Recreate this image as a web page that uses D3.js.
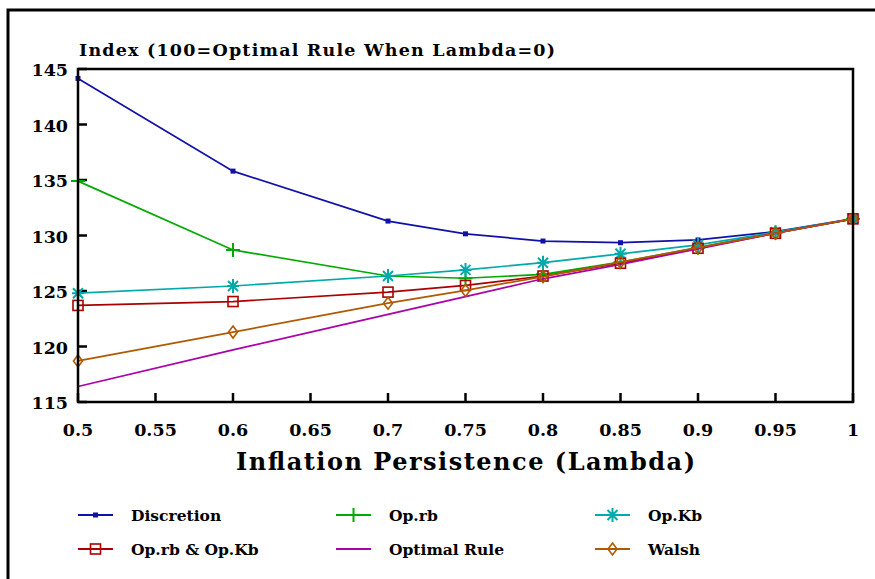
<!DOCTYPE html>
<html>
<head>
<meta charset="utf-8">
<script src="https://d3js.org/d3.v7.min.js"></script>
<style>
  body { margin: 0; background: #fff; }
  svg text { font-family: "DejaVu Serif", serif; font-weight: bold; fill: #000; }
</style>
</head>
<body>
<div id="chart"></div>
<script>
  // x values (inflation persistence)
  var lambdas = [0.5, 0.6, 0.7, 0.75, 0.8, 0.85, 0.9, 0.95, 1.0];

  var discretion = [144.15, 135.8, 131.3, 130.15, 129.5, 129.35, 129.6, 130.35, 131.5];
  var opRb = [134.9, 128.7, 126.35, 126.15, 126.5, 127.6, 128.9, 130.25, 131.5];
  var opKb = [124.8, 125.45, 126.35, 126.9, 127.55, 128.35, 129.15, 130.3, 131.5];
  var opRbKb = [123.7, 124.05, 124.9, 125.5, 126.35, 127.5, 128.85, 130.2, 131.5];
  var optimalRule = [116.4, 119.7, 122.9, 124.5, 126.1, 127.4, 128.8, 130.2, 131.5];
  var walsh = [118.7, 121.3, 123.9, 125.05, 126.3, 127.6, 128.9, 130.2, 131.5];

  var seriesNames = ["Discretion", "Op.rb", "Op.Kb", "Op.rb & Op.Kb", "Optimal Rule", "Walsh"];
  var seriesValues = [discretion, opRb, opKb, opRbKb, optimalRule, walsh];
  var seriesColors = ["#1010aa", "#00aa00", "#00aaaa", "#aa0000", "#aa00aa", "#b05a00"];
  var seriesMarkers = ["dot", "plus", "star", "square", "none", "diamond"];

  var xTicks = [0.5, 0.55, 0.6, 0.65, 0.7, 0.75, 0.8, 0.85, 0.9, 0.95, 1];
  var xTickLabels = ["0.5", "0.55", "0.6", "0.65", "0.7", "0.75", "0.8", "0.85", "0.9", "0.95", "1"];
  var yTicks = [115, 120, 125, 130, 135, 140, 145];

  var W = 875, H = 579,
    margin = {top: 69, left: 78, right: 22, bottom: 177};

  var svg = d3.select("#chart").append("svg").attr("width", W).attr("height", H);

  // outer frame (runs off the page on the right and bottom)
  svg.append("rect")
    .attr("x", 8).attr("y", 10).attr("width", W + 20).attr("height", H + 20)
    .attr("fill", "none").attr("stroke", "#000").attr("stroke-width", 3);

  var x = d3.scaleLinear().domain([0.5, 1]).range([margin.left, W - margin.right]),
    y = d3.scaleLinear().domain([115, 145]).range([H - margin.bottom, margin.top]);

  // inside ticks
  var tickG = svg.append("g").attr("stroke", "#000").attr("stroke-width", 2.5);
  tickG.selectAll(".xt").data(xTicks).enter().append("line")
    .attr("x1", function (d) { return x(d); }).attr("x2", function (d) { return x(d); })
    .attr("y1", y(115)).attr("y2", y(115) - 9);
  tickG.selectAll(".yt").data(yTicks).enter().append("line")
    .attr("x1", x(0.5)).attr("x2", x(0.5) + 9)
    .attr("y1", function (d) { return y(d); }).attr("y2", function (d) { return y(d); });

  // tick labels
  svg.selectAll(".xl").data(xTicks).enter().append("text")
    .attr("x", function (d) { return x(d); }).attr("y", y(115) + 34)
    .attr("text-anchor", "middle").attr("font-size", 17.5)
    .text(function (d, i) { return xTickLabels[i]; });
  svg.selectAll(".yl").data(yTicks).enter().append("text")
    .attr("x", x(0.5) - 10).attr("y", function (d) { return y(d) + 7; })
    .attr("text-anchor", "end").attr("font-size", 17.5)
    .text(function (d) { return d; });

  // titles
  svg.append("text").attr("x", 79).attr("y", 56).attr("font-size", 17.5)
    .attr("textLength", 476).attr("lengthAdjust", "spacing")
    .text("Index (100=Optimal Rule When Lambda=0)");
  svg.append("text").attr("x", 236).attr("y", 470).attr("font-size", 24)
    .attr("textLength", 459).attr("lengthAdjust", "spacing")
    .text("Inflation Persistence (Lambda)");

  function drawMarker(g, type, color) {
    if (type == "dot") {
      g.append("rect").attr("x", -2.5).attr("y", -2.5).attr("width", 5).attr("height", 5).attr("fill", color);
    } else if (type == "plus") {
      g.append("path").attr("d", "M-7,0H7M0,-7V7").attr("stroke", color).attr("stroke-width", 2).attr("fill", "none");
    } else if (type == "star") {
      g.append("path").attr("d", "M-6,0H6M0,-7V7M-5,-5L5,5M-5,5L5,-5").attr("stroke", color).attr("stroke-width", 2).attr("fill", "none");
    } else if (type == "square") {
      g.append("rect").attr("x", -5).attr("y", -5).attr("width", 10).attr("height", 10)
        .attr("fill", "none").attr("stroke", color).attr("stroke-width", 1.6);
    } else if (type == "diamond") {
      g.append("path").attr("d", "M0,-6L4.5,0L0,6L-4.5,0Z").attr("fill", "none").attr("stroke", color).attr("stroke-width", 1.6);
    }
  }

  var line = d3.line()
    .x(function (d, i) { return x(lambdas[i]); })
    .y(function (d) { return y(d); });

  seriesValues.forEach(function (vals, s) {
    svg.append("path").datum(vals).attr("d", line)
      .attr("fill", "none").attr("stroke", seriesColors[s]).attr("stroke-width", 1.7);
    vals.forEach(function (v, i) {
      var g = svg.append("g").attr("transform", "translate(" + x(lambdas[i]) + "," + y(v) + ")");
      drawMarker(g, seriesMarkers[s], seriesColors[s]);
    });
  });

  // plot box
  svg.append("rect")
    .attr("x", x(0.5)).attr("y", y(145)).attr("width", x(1) - x(0.5)).attr("height", y(115) - y(145))
    .attr("fill", "none").attr("stroke", "#000").attr("stroke-width", 2.5);

  // legend, 3 columns x 2 rows
  var legX = [78, 336, 595], legY = [515, 549];
  seriesNames.forEach(function (name, s) {
    var lx = legX[s % 3], ly = legY[Math.floor(s / 3)];
    svg.append("line").attr("x1", lx).attr("x2", lx + 35).attr("y1", ly).attr("y2", ly)
      .attr("stroke", seriesColors[s]).attr("stroke-width", 2);
    var g = svg.append("g").attr("transform", "translate(" + (lx + 17.5) + "," + ly + ")");
    drawMarker(g, seriesMarkers[s], seriesColors[s]);
    svg.append("text").attr("x", lx + 53).attr("y", ly + 6).attr("font-size", 15.5).text(name);
  });
</script>
</body>
</html>
